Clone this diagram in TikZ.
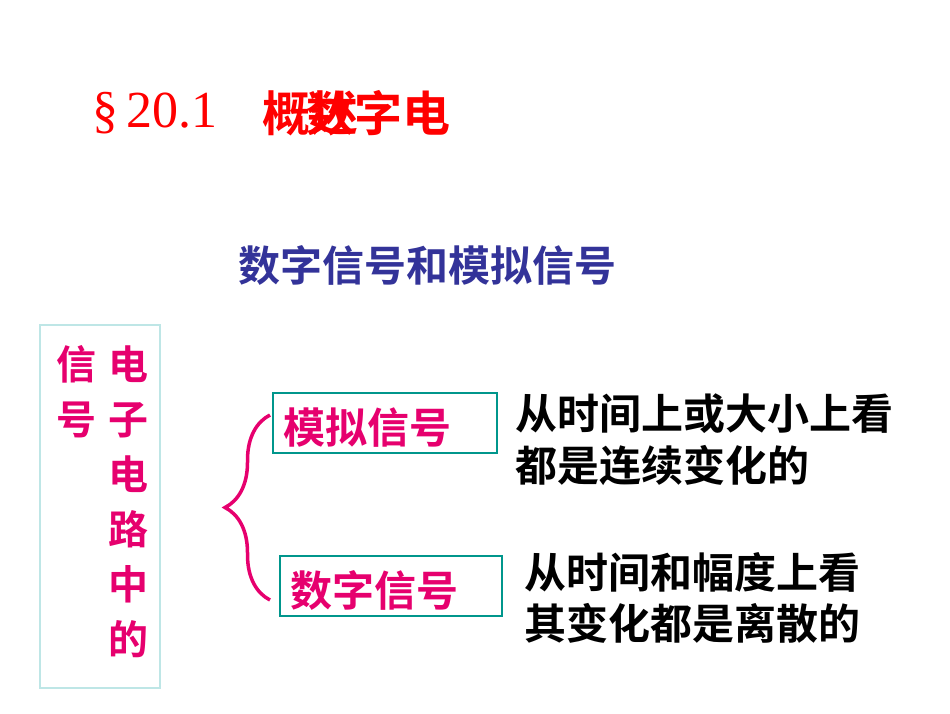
\documentclass[tikz,border=0pt]{standalone}
\usepackage{fontspec}
\newfontfamily\cjk{Noto Sans CJK SC Bold}
\setmainfont{Liberation Serif}
\usetikzlibrary{decorations.pathreplacing}
\definecolor{tred}{RGB}{255,0,0}
\definecolor{tblue}{RGB}{51,51,153}
\definecolor{tpink}{RGB}{230,0,110}
\definecolor{tteal}{RGB}{0,150,140}
\definecolor{tcyan}{RGB}{190,230,230}
\tikzset{t/.style={inner sep=0pt,anchor=west},
 big/.style={font=\cjk\fontsize{42}{42}\selectfont},
 sbox/.style={draw=tteal,line width=2.5pt}}
\begin{document}
\begin{tikzpicture}[x=1pt,y=-1pt]
\useasboundingbox (0,0) rectangle (950,713);
\node[t,text=tred,font=\fontsize{52}{52}\selectfont] (sec) at (92,113) {§\,20.1};
\node[t,text=tred,font=\cjk\fontsize{48}{48}\selectfont] (t1) at (262,113) {\rlap{概述}\hspace{44pt}数字电};
\node[text=tblue,big] (sub) at (427,265) {数字信号和模拟信号};
\draw[tcyan,line width=2pt] (40,325) rectangle (160,688);
\node[text=tpink,align=center,font=\cjk\fontsize{40}{55}\selectfont,anchor=north] (c1) at (128,342) {电\\子\\电\\路\\中\\的};
\node[text=tpink,align=center,font=\cjk\fontsize{40}{55}\selectfont,anchor=north] (c2) at (76,342) {信\\号};
\draw[sbox] (273,393) rectangle (497,453);
\node[text=tpink,big] (a) at (367,428) {模拟信号};
\draw[sbox] (280,556) rectangle (502,616);
\node[text=tpink,big] (d) at (374,590) {数字信号};
\draw[tpink,line width=3.5pt,decorate,decoration={brace,amplitude=45pt,aspect=0.5}] (270,600) -- (270,415);
\node[t,big] (r1) at (515,414) {从时间上或大小上看};
\node[t,big] (r2) at (515,465) {都是连续变化的};
\node[t,big] (r3) at (524,572) {从时间和幅度上看};
\node[t,big] (r4) at (524,623) {其变化都是离散的};
\end{tikzpicture}
\end{document}
